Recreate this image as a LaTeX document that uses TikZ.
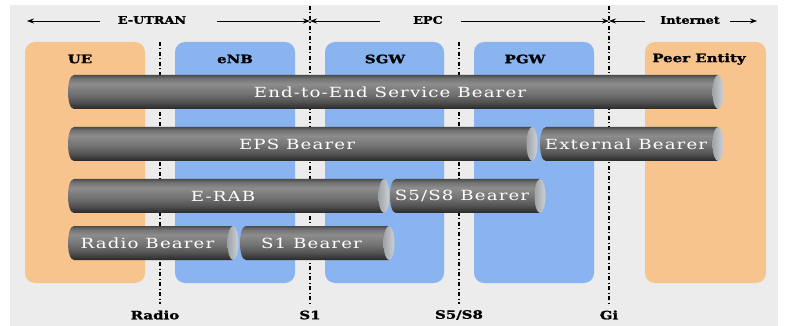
\documentclass[tikz,border=0pt]{standalone}
\usepackage{fontspec}
\newfontfamily\pipefont{DejaVu Serif}[FakeStretch=1.3, LetterSpace=8]
\newfontfamily\lblfont{DejaVu Serif Bold}[FakeStretch=1.3, FakeBold=1.5]
\newfontfamily\domfont{DejaVu Serif Bold}[FakeStretch=1.22, FakeBold=1.5]
\usetikzlibrary{arrows.meta}
\definecolor{bgc}{RGB}{236,236,236}
\definecolor{uec}{RGB}{248,196,142}
\definecolor{nbc}{RGB}{138,180,240}
\definecolor{pipeA}{RGB}{40,40,40}
\definecolor{pipeB}{RGB}{80,80,80}
\definecolor{pipeC}{RGB}{115,115,115}
\definecolor{pipeD}{RGB}{140,140,140}
\definecolor{pipeE}{RGB}{75,75,75}
\definecolor{capdark}{RGB}{160,164,168}
\definecolor{caplight}{RGB}{205,208,212}
\pgfdeclareverticalshading{pipeshade}{100bp}{color(0bp)=(pipeA); color(25bp)=(pipeA); color(35bp)=(pipeB); color(48bp)=(pipeC); color(62bp)=(pipeD); color(70bp)=(pipeC); color(75bp)=(pipeE); color(100bp)=(pipeE)}
\tikzset{
  entbox/.style={rounded corners=10pt},
  boxlabel/.style={font=\lblfont\fontsize{11.5}{13}\selectfont, inner sep=0pt, anchor=center},
  domlabel/.style={font=\domfont\fontsize{10.5}{12}\selectfont, inner sep=0pt, anchor=center},
  pipetext/.style={font=\pipefont\fontsize{14}{16}\selectfont, text=white, inner sep=0pt},
  ifline/.style={line width=1.4pt, dash pattern=on 4pt off 2.5pt on 1pt off 2.5pt},
  domarrow/.style={line width=0.7pt, -{Stealth[length=7pt,width=5pt]}},
}
\newcommand\bearerpipe[5]{%
  \shade[shading=pipeshade]
    (#3,#4-17) -- (#2+6,#4-17) .. controls (#2-2,#4-17) and (#2-2,#4+17) .. (#2+6,#4+17) -- (#3,#4+17) -- cycle;
  \shade[left color=capdark, right color=caplight] (#3,#4) ellipse [x radius=5.5, y radius=17];
  \node[pipetext] (#1) at ({(#2+#3)/2-3},#4) {#5};
}
\begin{document}
\begin{tikzpicture}[x=1pt,y=-1pt]
\useasboundingbox (0,0) rectangle (785,326);
\fill[white] (0,0) rectangle (785,326);
\fill[bgc] (10,5) rectangle (778,326);
% entity boxes
\fill[uec, entbox] (25,42) rectangle (145,283);
\fill[nbc, entbox] (175,42) rectangle (295,283);
\fill[nbc, entbox] (325,42) rectangle (444,283);
\fill[nbc, entbox] (474,42) rectangle (594,283);
\fill[uec, entbox] (645,42) rectangle (766,283);
\node[boxlabel] (ue) at (80,59) {UE};
\node[boxlabel] (enb) at (235,59) {eNB};
\node[boxlabel] (sgw) at (385,59) {SGW};
\node[boxlabel] (pgw) at (525,59) {PGW};
\node[boxlabel] (peer) at (699,59) {Peer Entity};
% interface lines
\coordinate (radioT) at (160,42);
\coordinate (s1T) at (310,6);
\coordinate (s5T) at (459,42);
\coordinate (giT) at (609,6);
\node[boxlabel] (radio) at (155,315) {Radio};
\node[boxlabel] (s1) at (310,315) {S1};
\node[boxlabel] (s5) at (459,315) {S5/S8};
\node[boxlabel] (gi) at (609,315) {Gi};
\draw[ifline] (radioT) -- (160,304);
\draw[ifline] (s1T) -- (s1.north |- 0,304);
\draw[ifline] (s5T) -- (s5.north |- 0,304);
\draw[ifline] (giT) -- (gi.north |- 0,304);
% domain arrows
\coordinate (eL) at (27,21);
\coordinate (bA) at (310,21);
\coordinate (bB) at (609,21);
\coordinate (iR) at (757,21);
\node[domlabel] (eutran) at (152,20) {E-UTRAN};
\node[domlabel] (epc) at (428,20) {EPC};
\node[domlabel] (inet) at (690,20) {Internet};
\draw[domarrow] (100,21) -- (eL);
\draw[domarrow] (217,21) -- (bA);
\draw[domarrow] (380,21) -- (bA);
\draw[domarrow] (461,21) -- (bB);
\draw[domarrow] (645,21) -- (bB);
\draw[domarrow] (730,21) -- (iR);
% bearers
\bearerpipe{e2e}{68}{718}{92}{End-to-End Service Bearer}
\bearerpipe{eps}{68}{532}{144}{EPS Bearer}
\bearerpipe{ext}{540}{718}{144}{External Bearer}
\bearerpipe{erab}{68}{384}{196}{E-RAB}
\bearerpipe{s58b}{390}{540}{196}{S5/S8 Bearer}
\bearerpipe{rb}{68}{233}{243}{Radio Bearer}
\bearerpipe{s1b}{240}{389}{243}{S1 Bearer}
\end{tikzpicture}
\end{document}
